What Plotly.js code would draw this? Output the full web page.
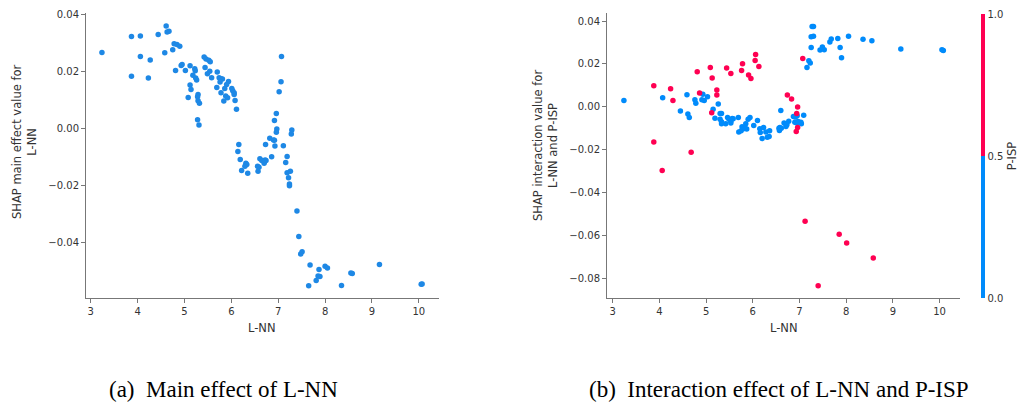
<!DOCTYPE html>
<html>
<head>
<meta charset="utf-8">
<script src="https://cdn.plot.ly/plotly-3.0.1.min.js"></script>
<style>html,body{margin:0;padding:0;background:#fff;}#chart{width:1027px;height:403px;}</style>
</head>
<body>
<div id="chart"></div>
<script>
// ---- data: (a) main effect of L-NN ----
const mainX = [3.24,3.87,4.06,3.87,4.06,4.27,4.23,4.44,4.61,4.63,
  4.67,4.58,4.75,4.78,4.84,4.90,4.81,4.93,4.95,5.02,
  5.12,5.22,5.23,5.18,5.24,5.26,5.12,5.14,5.08,5.29,
  5.28,5.29,5.32,5.28,5.31,5.42,5.46,5.52,5.55,5.44,
  5.54,5.49,5.58,5.70,5.74,5.78,5.81,5.76,5.94,5.90,
  5.69,5.86,5.78,6.01,6.03,6.06,6.06,5.88,5.92,5.84,
  6.08,6.11,7.07,7.06,7.02,6.96,6.92,6.97,6.96,7.29,
  7.28,6.82,6.90,6.92,6.73,6.93,7.11,6.16,6.14,6.19,
  6.61,6.72,6.86,7.19,6.22,6.31,6.33,6.29,6.35,6.56,
  6.59,6.57,6.65,6.70,6.74,6.70,7.16,7.19,7.26,7.22,
  7.24,7.24,7.40,7.44,7.48,7.51,7.68,7.87,7.85,7.89,
  7.81,7.65,8.00,8.05,8.35,8.55,8.58,9.16,10.05,10.07];
const mainY = [0.0268,0.0324,0.0326,0.0184,0.0254,0.0242,0.0178,0.0331,0.0361,0.0340,
  0.0343,0.0267,0.0278,0.0299,0.0296,0.0290,0.0205,0.0222,0.0226,0.0205,
  0.0221,0.0211,0.0204,0.0188,0.0178,0.0171,0.0154,0.0138,0.0110,0.0120,
  0.0112,0.0098,0.0089,0.0031,0.0013,0.0252,0.0245,0.0241,0.0235,0.0215,
  0.0202,0.0193,0.0179,0.0199,0.0179,0.0176,0.0175,0.0164,0.0166,0.0155,
  0.0145,0.0141,0.0126,0.0141,0.0133,0.0126,0.0120,0.0115,0.0109,0.0097,
  0.0099,0.0068,0.0254,0.0165,0.0130,0.0053,0.0029,-0.0001,-0.0013,-0.0005,
  -0.0019,-0.0034,-0.0040,-0.0041,-0.0056,-0.0061,-0.0060,-0.0056,-0.0080,-0.0109,
  -0.0106,-0.0110,-0.0099,-0.0098,-0.0147,-0.0122,-0.0126,-0.0132,-0.0157,-0.0132,
  -0.0136,-0.0150,-0.0112,-0.0116,-0.0112,-0.0122,-0.0119,-0.0155,-0.0150,-0.0173,
  -0.0195,-0.0201,-0.0290,-0.0380,-0.0441,-0.0433,-0.0480,-0.0496,-0.0519,-0.0520,
  -0.0534,-0.0553,-0.0484,-0.0490,-0.0552,-0.0508,-0.0510,-0.0478,-0.0548,-0.0547];

// ---- data: (b) interaction of L-NN and P-ISP ----
// P-ISP = 0 (blue)
const intX0 = [3.24,4.07,4.59,4.45,4.61,4.64,4.76,4.78,4.93,4.91,
  4.96,5.03,5.15,5.19,5.26,5.30,5.33,5.30,5.33,5.33,
  5.42,5.46,5.49,5.53,5.56,5.58,5.53,5.69,5.70,5.75,
  5.77,5.80,5.83,5.85,5.87,5.90,5.94,6.02,6.10,6.15,
  6.23,6.16,6.20,6.28,6.31,6.35,6.36,6.60,6.56,6.58,
  6.57,6.61,6.67,6.71,6.71,6.73,6.77,6.87,6.91,6.95,
  6.90,6.94,6.97,7.03,7.04,7.09,7.27,7.30,7.25,7.30,
  7.25,7.20,7.23,7.16,7.44,7.49,7.53,7.65,7.68,7.82,
  7.87,7.90,8.05,8.36,8.55,9.17,10.05,10.08];
const intY0 = [0.0029,0.0042,0.0056,-0.0020,-0.0034,-0.0050,0.0033,0.0017,0.0058,0.0033,
  0.0029,0.0047,-0.0011,-0.0053,0.0013,-0.0031,-0.0031,-0.0058,-0.0070,-0.0079,
  -0.0079,-0.0050,-0.0058,-0.0067,-0.0055,-0.0056,-0.0076,-0.0050,-0.0118,-0.0112,
  -0.0093,-0.0103,-0.0097,-0.0079,-0.0104,-0.0058,-0.0050,-0.0087,-0.0064,-0.0103,
  -0.0097,-0.0120,-0.0148,-0.0118,-0.0142,-0.0139,-0.0112,-0.0017,-0.0100,-0.0097,
  -0.0111,-0.0100,-0.0076,-0.0079,-0.0092,-0.0084,-0.0067,-0.0045,-0.0048,-0.0042,
  -0.0072,-0.0076,-0.0069,-0.0072,-0.0079,-0.0039,0.0375,0.0375,0.0327,0.0329,
  0.0277,0.0215,0.0204,0.0184,0.0265,0.0279,0.0266,0.0302,0.0316,0.0319,
  0.0277,0.0229,0.0329,0.0315,0.0308,0.0270,0.0266,0.0263];
// P-ISP = 1 (red)
const intX1 = [3.88,4.24,4.29,3.88,4.06,4.68,4.81,4.86,5.09,5.13,
  5.23,5.23,5.12,5.44,5.53,5.76,5.78,5.91,5.96,6.05,
  6.06,6.13,6.74,6.83,6.96,6.94,6.96,6.93,7.07,7.12,
  7.40,7.85,8.01,8.58];
const intY1 = [0.0098,0.0084,0.0029,-0.0165,-0.0297,-0.0212,0.0164,0.0064,0.0184,0.0134,
  0.0078,0.0055,-0.0028,0.0181,0.0156,0.0170,0.0201,0.0148,0.0132,0.0216,
  0.0244,0.0188,0.0055,0.0036,-0.0001,-0.0031,-0.0097,-0.0115,0.0225,-0.0534,
  -0.0836,-0.0595,-0.0636,-0.0706];

const mainTicksY = [-0.04,-0.02,0,0.02,0.04];
const intTicksY = [-0.08,-0.06,-0.04,-0.02,0,0.02,0.04];
const ticksX = [3,4,5,6,7,8,9,10];
const pispTicks = [0,0.5,1];
const pispLabels = ['0.0','0.5','1.0'];

// ---- layout helpers ----
const W = 1027, H = 403;
const fx = v => v / W;
const fy = v => 1 - v / H;
const FONT = 'DejaVu Sans, sans-serif';
const TXT = '#333333';
const AX = '#777777';

const intX = intX0.concat(intX1);
const intY = intY0.concat(intY1);
const intC = intX0.map(() => 0).concat(intX1.map(() => 1));

const traces = [
  {type:'scatter', mode:'markers', x: mainX, y: mainY, xaxis:'x', yaxis:'y',
   marker:{color:'#1E88E5', size:5.5, line:{width:0}}, hoverinfo:'x+y'},
  {type:'scatter', mode:'markers', x: intX, y: intY, xaxis:'x2', yaxis:'y2',
   marker:{color: intC, cmin:0, cmax:1, size:5.5, line:{width:0},
     colorscale:[[0,'#008bfb'],[0.5,'#008bfb'],[0.5,'#ff0052'],[1,'#ff0052']],
     showscale:true,
     colorbar:{x: fx(981), xanchor:'left', xpad:0, ypad:0, thickness:4, thicknessmode:'pixels',
       len:284, lenmode:'pixels', y: fy(156), yanchor:'middle', outlinewidth:0,
       tickvals: pispTicks, ticktext: pispLabels, ticks:'',
       tickfont:{family:FONT, size:10, color:TXT},
       title:{text:'P-ISP', side:'right', font:{family:FONT, size:11.5, color:TXT}}}},
   hoverinfo:'x+y'}
];

const axBase = {showline:true, linecolor:AX, linewidth:1, ticks:'outside', ticklen:4,
  tickcolor:AX, tickwidth:1, showgrid:false, zeroline:false,
  tickfont:{family:FONT, size:10, color:TXT}};

const layout = {
  width: W, height: H, margin:{l:0, r:0, t:0, b:0},
  paper_bgcolor:'#fff', plot_bgcolor:'#fff', showlegend:false,
  xaxis: Object.assign({}, axBase, {domain:[fx(86), fx(439)], range:[2.9, 10.43],
    tickvals: ticksX, anchor:'y'}),
  yaxis: Object.assign({}, axBase, {domain:[fy(298), fy(13)], range:[-0.0596, 0.0407],
    tickvals: mainTicksY, tickformat:'.2f', anchor:'x'}),
  xaxis2: Object.assign({}, axBase, {domain:[fx(607), fx(960)], range:[2.878, 10.437],
    tickvals: ticksX, anchor:'y2'}),
  yaxis2: Object.assign({}, axBase, {domain:[fy(298), fy(13)], range:[-0.0893, 0.0438],
    tickvals: intTicksY, tickformat:'.2f', anchor:'x2'}),
  annotations: [
    {xref:'paper', yref:'paper', x: fx(24), y: fy(142), textangle:-90, showarrow:false,
     xanchor:'center', yanchor:'middle', text:'SHAP main effect value for<br>L-NN',
     font:{family:FONT, size:11.5, color:TXT}},
    {xref:'paper', yref:'paper', x: fx(545), y: fy(146), textangle:-90, showarrow:false,
     xanchor:'center', yanchor:'middle', text:'SHAP interaction value for<br>L-NN and P-ISP',
     font:{family:FONT, size:11.5, color:TXT}},
    {xref:'paper', yref:'paper', x: fx(262), y: fy(328), showarrow:false,
     xanchor:'center', yanchor:'middle', text:'L-NN', font:{family:FONT, size:11.5, color:TXT}},
    {xref:'paper', yref:'paper', x: fx(784), y: fy(328), showarrow:false,
     xanchor:'center', yanchor:'middle', text:'L-NN', font:{family:FONT, size:11.5, color:TXT}},
    {xref:'paper', yref:'paper', x: fx(223.5), y: fy(389), showarrow:false,
     xanchor:'center', yanchor:'middle', text:'(a)\u00a0 Main effect of L-NN',
     font:{family:'Liberation Serif, serif', size:23, color:'#000'}},
    {xref:'paper', yref:'paper', x: fx(779), y: fy(389), showarrow:false,
     xanchor:'center', yanchor:'middle', text:'(b)\u00a0 Interaction effect of L-NN and P-ISP',
     font:{family:'Liberation Serif, serif', size:23, color:'#000'}}
  ]
};

Plotly.newPlot('chart', traces, layout, {displayModeBar:false, staticPlot:true});
</script>
</body>
</html>
